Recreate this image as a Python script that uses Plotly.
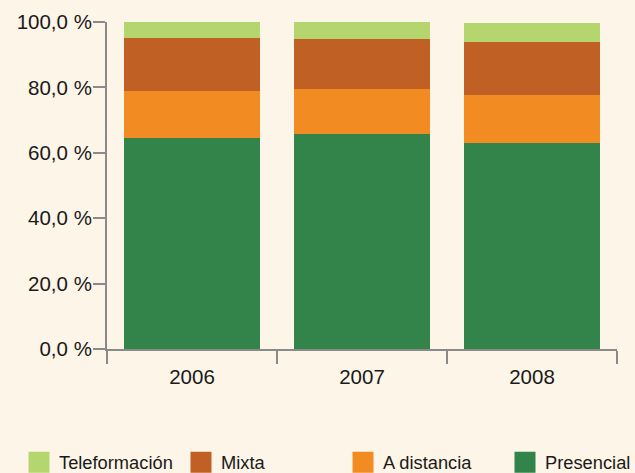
import plotly.graph_objects as go

years = ["2006", "2007", "2008"]
presencial = [64.6, 65.8, 63.0]
a_distancia = [14.3, 13.7, 14.7]
mixta = [16.2, 15.3, 16.2]
teleformacion = [4.9, 5.2, 5.8]

series_names = ["Presencial", "A distancia", "Mixta", "Teleformación"]
series_values = [presencial, a_distancia, mixta, teleformacion]
series_colors = ["#32844a", "#f28c22", "#c06025", "#b5d66e"]

y_tickvals = [0, 20, 40, 60, 80, 100]
y_ticktext = ["0,0 %", "20,0 %", "40,0 %", "60,0 %", "80,0 %", "100,0 %"]

bg = "#fdf5e7"
axis_col = "#8a8a8a"
family = "Liberation Sans, Arial, sans-serif"
axis_font = dict(family=family, size=20.5, color="#1a1a1a")
legend_font = dict(family=family, size=18.3, color="#1a1a1a")

fig = go.Figure()
for name, vals, col in zip(series_names, series_values, series_colors):
    fig.add_trace(go.Bar(x=years, y=vals, name=name, showlegend=False,
                         marker=dict(color=col, line=dict(width=0))))

# legend entries (no data drawn), Presencial in a second legend so the row can run to the edge
legend_ids = ["legend", "legend", "legend", "legend2"]
for name, col, lg in zip(series_names[::-1], series_colors[::-1], legend_ids):
    fig.add_trace(go.Scatter(x=[None], y=[None], mode="markers", name=name, legend=lg,
                             marker=dict(symbol="square", size=24, color=col,
                                         line=dict(width=5, color=col))))

leg_common = dict(
    orientation="h", xref="container", yref="container",
    xanchor="left", yanchor="top", y=0.0617, traceorder="normal",
    entrywidth=117, entrywidthmode="pixels",
    font=legend_font, bgcolor="rgba(0,0,0,0)", borderwidth=0,
)

fig.update_layout(
    width=635, height=473,
    barmode="stack", bargap=0.2,
    paper_bgcolor=bg, plot_bgcolor=bg,
    font=axis_font,
    margin=dict(l=107, r=18, t=22, b=124, autoexpand=False),
    legend=dict(x=19 / 635, **leg_common),
    legend2=dict(x=505 / 635, **leg_common),
    xaxis=dict(
        type="category", range=[-0.5, 2.5], automargin=False,
        showline=True, linecolor=axis_col, linewidth=2,
        ticks="outside", tickson="boundaries", ticklen=13, tickwidth=2, tickcolor=axis_col,
        ticklabelstandoff=8,
        showgrid=False, zeroline=False,
    ),
    yaxis=dict(
        range=[0, 100], tickvals=y_tickvals, ticktext=y_ticktext, automargin=False,
        showline=True, linecolor=axis_col, linewidth=2,
        ticks="outside", ticklen=12, tickwidth=2, tickcolor=axis_col,
        ticklabelstandoff=-3,
        showgrid=False, zeroline=False,
    ),
)

fig.write_html(
    "out.html",
    config={"displayModeBar": False},
    post_script="document.body.style.margin='0';document.body.style.background='" + bg + "';",
)
